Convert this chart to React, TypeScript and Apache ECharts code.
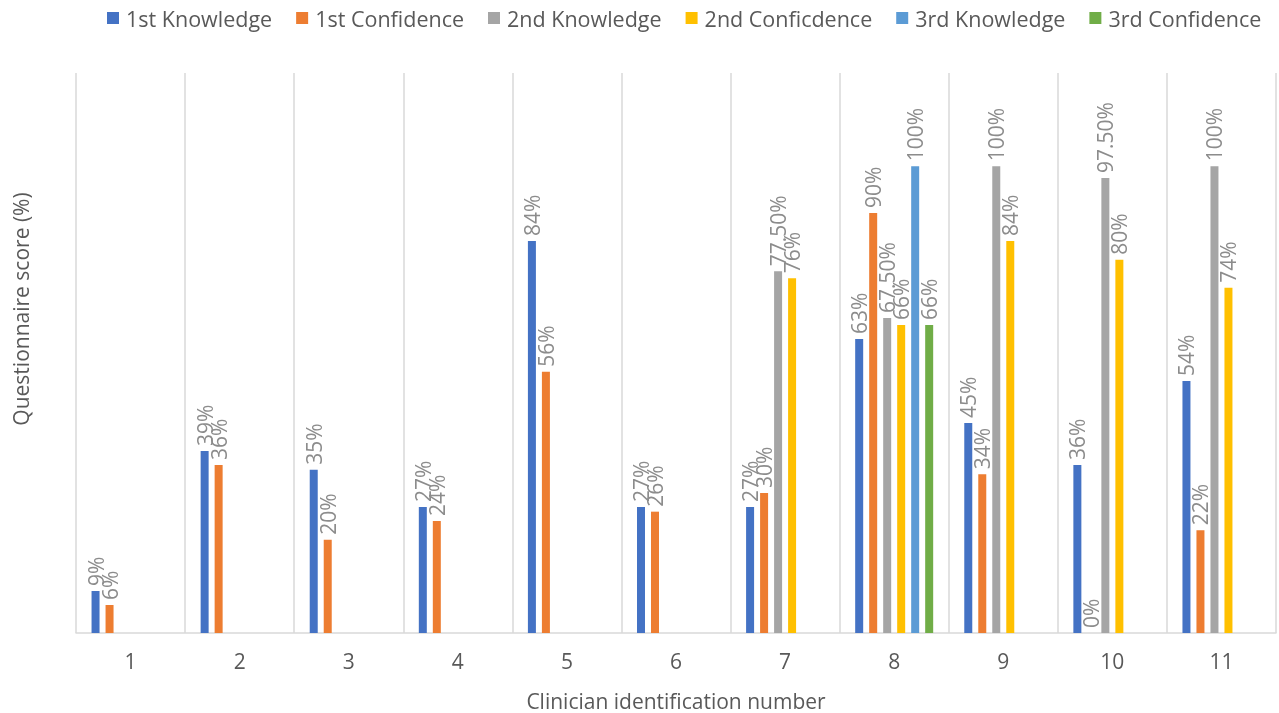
import React, { useEffect, useRef } from "react";
import * as echarts from "echarts";

const categories = ["1", "2", "3", "4", "5", "6", "7", "8", "9", "10", "11"];
const seriesNames = ["1st Knowledge", "1st Confidence", "2nd Knowledge", "2nd Conficdence", "3rd Knowledge", "3rd Confidence"];
const firstKnowledge = [9, 39, 35, 27, 84, 27, 27, 63, 45, 36, 54];
const firstConfidence = [6, 36, 20, 24, 56, 26, 30, 90, 34, 0, 22];
const secondKnowledge = [null, null, null, null, null, null, 77.5, 67.5, 100, 97.5, 100];
const secondConfidence = [null, null, null, null, null, null, 76, 66, 84, 80, 74];
const thirdKnowledge = [null, null, null, null, null, null, null, 100, null, null, null];
const thirdConfidence = [null, null, null, null, null, null, null, 66, null, null, null];
const colors = ["#4472C4", "#ED7D31", "#A5A5A5", "#FFC000", "#5B9BD5", "#70AD47"];

const FONT = "'Open Sans', sans-serif";

export default function App() {
  const ref = useRef<HTMLDivElement>(null);
  useEffect(() => {
    if (!ref.current) return;
    const chart = echarts.init(ref.current, undefined, { renderer: "svg" });
    const data = [firstKnowledge, firstConfidence, secondKnowledge, secondConfidence, thirdKnowledge, thirdConfidence];
    chart.setOption({
      animation: false,
      textStyle: { fontFamily: FONT },
      legend: {
        top: 2,
        left: 102,
        itemWidth: 12,
        itemHeight: 12,
        itemGap: 24,
        icon: "rect",
        textStyle: { fontSize: 21.5, color: "#595959", fontFamily: FONT, padding: [0, 0, 0, 2] },
        data: seriesNames,
      },
      grid: { left: 76, right: 3, top: 73, bottom: 80, containLabel: false, outerBoundsMode: "none" },
      xAxis: {
        type: "category",
        data: categories,
        name: "Clinician identification number",
        nameLocation: "middle",
        nameGap: 57,
        nameTextStyle: { fontSize: 21, color: "#595959", fontFamily: FONT },
        axisLine: { lineStyle: { color: "#d9d9d9", width: 1.5 } },
        axisTick: { show: false },
        axisLabel: { fontSize: 21, color: "#595959", margin: 17, fontFamily: FONT },
        splitLine: { show: true, showMinLine: true, showMaxLine: true, lineStyle: { color: "#d9d9d9", width: 1.5 } },
      },
      yAxis: {
        type: "value",
        min: 0,
        max: 120,
        show: false,
        splitLine: { show: false },
      },
      graphic: [
        {
          type: "text",
          x: 21,
          y: 309,
          rotation: Math.PI / 2,
          style: {
            text: "Questionnaire score (%)",
            fontSize: 21,
            fill: "#595959",
            fontFamily: FONT,
            align: "center",
            verticalAlign: "middle",
          },
        },
      ],
      series: seriesNames.map((name, i) => ({
        name,
        type: "bar",
        data: data[i],
        barWidth: 8,
        barGap: "75%",
        itemStyle: { color: colors[i] },
        label: {
          show: true,
          position: "top",
          rotate: 90,
          align: "left",
          verticalAlign: "middle",
          distance: 5,
          fontSize: 21,
          color: "#8c8c8c",
          fontFamily: FONT,
          formatter: (p: any) => {
            const v = p.value;
            if (v === null || v === undefined) return "";
            return Number.isInteger(v) ? v + "%" : Number(v).toFixed(2) + "%";
          },
        },
      })),
    });
    return () => chart.dispose();
  }, []);
  return <div ref={ref} style={{ position: "fixed", left: 0, top: 0, width: 1279, height: 713 }} />;
}
